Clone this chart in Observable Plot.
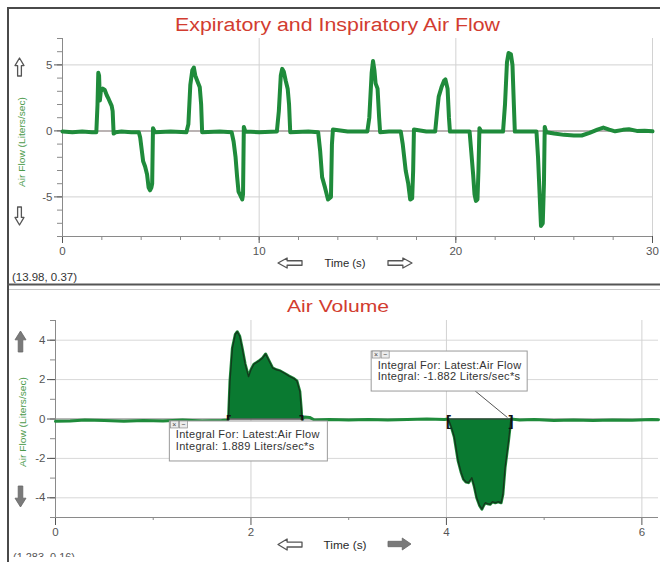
<!DOCTYPE html>
<html>
<head>
<meta charset="utf-8">
<script src="https://cdn.jsdelivr.net/npm/d3@7"></script>
<script src="https://cdn.jsdelivr.net/npm/@observablehq/plot@0.6"></script>
<style>
  html, body { margin: 0; padding: 0; background: #fff; }
  #root { position: relative; width: 660px; height: 562px; overflow: hidden; background: #fff; font-family: "Liberation Sans", Arial, sans-serif; }
  #root > svg { position: absolute; left: 0; }
</style>
</head>
<body>
<div id="root"></div>
<script>
// ---------- text ----------
const topTitle = "Expiratory and Inspiratory Air Flow";
const bottomTitle = "Air Volume";
const yLabel = "Air Flow (Liters/sec)";
const xLabel = "Time (s)";
const topCursor = "(13.98, 0.37)";
const bottomCursor = "(1.283, 0.16)";
const integralFor = "Integral For: Latest:Air Flow";
const integralText = ["Integral: 1.889 Liters/sec*s", "Integral: -1.882 Liters/sec*s"];

// ---------- ticks ----------
const topTimeTicks = [0, 10, 20, 30];
const topTimeMinor = [0, 2, 4, 6, 8, 10, 12, 14, 16, 18, 20, 22, 24, 26, 28, 30];
const topTimeGrid = [10, 20, 30];
const topFlowTicks = [-5, 0, 5];
const topFlowMinor = [-8, -7, -6, -5, -4, -3, -2, -1, 0, 1, 2, 3, 4, 5, 6, 7];
const topFlowGrid = [-5, 5];

const volTimeTicks = [0, 2, 4, 6];
const volTimeMinor = [1, 3, 5];
const volTimeGrid = [2, 4, 6];
const volFlowTicks = [-4, -2, 0, 2, 4];
const volFlowMinor = [-5, -4, -3, -2, -1, 0, 1, 2, 3, 4, 5];
const volFlowGrid = [-4, -2, 2, 4];

// ---------- top panel: air flow over 30 s ----------
const topTime = [
  0, 0.5, 1.0, 1.5, 1.72,
  1.78, 1.82, 1.86, 1.9, 1.95, 2.05, 2.15, 2.25, 2.35, 2.5, 2.55, 2.6, 2.7, 3.0, 3.5, 3.88,
  3.95, 4.1, 4.2, 4.3, 4.38, 4.45, 4.52, 4.56, 4.6, 4.7, 5.5, 6.3,
  6.4, 6.5, 6.6, 6.68, 6.75, 6.85, 6.98, 7.05, 7.1, 8.0, 8.6,
  8.7, 8.8, 8.88, 8.95, 9.05, 9.14, 9.18, 9.22, 9.3, 10.0, 10.9,
  11.0, 11.1, 11.17, 11.25, 11.35, 11.45, 11.52, 11.58, 12.5, 13.0,
  13.1, 13.2, 13.35, 13.5, 13.65, 13.7, 13.75, 14.5, 15.5,
  15.6, 15.72, 15.79, 15.86, 15.92, 16.02, 16.1, 16.15, 16.6, 17.2,
  17.3, 17.45, 17.58, 17.68, 17.78, 17.83, 17.87, 18.5, 18.95,
  19.05, 19.13, 19.27, 19.4, 19.47, 19.58, 19.65, 19.7, 20.3, 20.7,
  20.78, 20.88, 20.95, 21.02, 21.1, 21.15, 21.2, 21.3, 22.4,
  22.5, 22.6, 22.68, 22.8, 22.88, 22.95, 23.0, 23.5, 24.1,
  24.18, 24.26, 24.33, 24.42, 24.48, 24.52, 24.6, 25.0, 25.5, 26.0, 26.4, 26.8,
  27.2, 27.5, 27.8, 28.1, 28.5, 28.8, 29.2, 29.6, 30.0
];
const topFlow = [
  -0.05, -0.1, -0.05, -0.1, -0.1,
  2.0, 4.4, 4.2, 2.3, 3.0, 3.2, 3.1, 2.7, 2.4, 1.9, 1.5, -0.2, -0.1, -0.05, -0.1, -0.1,
  -0.5, -2.3, -2.7, -3.3, -4.3, -4.5, -4.3, -4.0, 0.2, -0.1, -0.05, -0.1,
  0.5, 3.5, 4.6, 4.8, 4.2, 3.8, 3.3, 2.0, -0.1, -0.05, -0.1,
  -0.8, -2.0, -3.5, -4.6, -4.9, -5.2, -4.8, 0.3, -0.05, -0.1, -0.05,
  1.5, 4.2, 4.7, 4.5, 3.8, 3.2, 2.0, -0.1, -0.05, -0.1,
  -1.5, -3.5, -4.3, -5.2, -5.0, -1.0, 0.1, -0.05, -0.05,
  1.0, 4.4, 5.3, 4.6, 3.6, 3.2, 1.0, -0.1, -0.05, -0.05,
  -1.0, -3.0, -4.0, -5.2, -5.1, -3.0, 0.1, -0.05, -0.05,
  1.5, 2.6, 3.3, 3.8, 3.9, 3.2, 1.0, -0.05, -0.05, -0.05,
  -1.5, -3.3, -4.8, -5.3, -5.2, -3.0, 0.2, -0.05, -0.05,
  2.0, 5.2, 5.9, 5.8, 5.0, 2.0, -0.05, -0.05, -0.05,
  -2.0, -4.8, -7.2, -7.0, -4.0, 0.3, -0.1, -0.2, -0.3, -0.35, -0.35, -0.15,
  0.1, 0.25, 0.1, -0.03, 0.08, 0.12, 0.0, 0.02, -0.03
];

// ---------- bottom panel: air flow 0–6.17 s with integrals ----------
const volTime = [
  0, 0.15, 0.3, 0.5, 0.7, 0.9, 1.1, 1.3, 1.5, 1.7, 1.76,
  1.77, 1.785, 1.81, 1.84, 1.86, 1.885, 1.91, 1.94, 1.975, 2.0, 2.03, 2.08, 2.12, 2.15,
  2.18, 2.22, 2.26, 2.3, 2.35, 2.39, 2.44, 2.47, 2.5, 2.515, 2.52,
  2.55, 2.6, 2.65, 2.8, 3.0, 3.2, 3.4, 3.6, 3.8, 3.98,
  4.02, 4.05, 4.08, 4.12, 4.15, 4.175, 4.2, 4.226, 4.26, 4.284, 4.31, 4.34, 4.363, 4.38,
  4.397, 4.42, 4.448, 4.47, 4.5, 4.53, 4.56, 4.578, 4.6, 4.635, 4.66,
  4.75, 4.9, 5.1, 5.3, 5.5, 5.7, 5.9, 6.1, 6.17
];
const volFlow = [
  -0.12, -0.1, -0.05, -0.08, -0.12, -0.08, -0.1, -0.05, -0.1, -0.08, -0.05,
  0.0, 1.9, 3.6, 4.3, 4.43, 4.2, 3.6, 2.8, 2.15, 2.5, 2.78, 2.94, 3.1, 3.3,
  3.0, 2.6, 2.5, 2.44, 2.3, 2.18, 2.05, 1.93, 1.4, 0.5, 0.0,
  0.1, 0.08, -0.05, -0.03, -0.05, -0.02, -0.05, -0.03, 0.0, -0.03,
  0.0, -0.4, -0.9, -2.13, -2.7, -3.06, -3.2, -3.23, -2.98, -3.4, -4.0, -4.4, -4.58, -4.4,
  -4.25, -4.3, -4.33, -4.2, -4.25, -4.2, -4.25, -3.82, -2.47, -1.12, 0.0,
  -0.05, -0.02, -0.08, -0.05, -0.08, -0.05, -0.06, -0.02, -0.04
];
const integralStart = [1.77, 4.02];
const integralEnd = [2.52, 4.66];
// where each integral note box sits (data units of the bottom panel)
const noteTime = [1.165, 3.23];
const noteFlow = [-0.1, 3.45];

// ---------- build ----------
const FONT = "'Liberation Sans', Arial, sans-serif";
const GREEN = "#1f8b3b";
const root = document.getElementById("root");

const topRows = topTime.map((t, i) => ({t, v: topFlow[i]}));
const volRows = volTime.map((t, i) => ({t, v: volFlow[i]}));
const fillRows = [];
integralStart.forEach((s, k) => {
  volRows.forEach(r => { if (r.t >= s - 1e-9 && r.t <= integralEnd[k] + 1e-9) fillRows.push({...r, k}); });
});
const brackets = integralStart.map(t => ({t, s: "["})).concat(integralEnd.map(t => ({t, s: "]"})));
const tf = d => String(d);
const none = () => "";

function yAxisMarks(minor, major) {
  return [
    Plot.axisY(minor, {tickSize: 5, tickFormat: none, label: null, stroke: "#8a8a8a", color: "#8a8a8a"}),
    Plot.axisY(major, {tickSize: 8, tickPadding: 2, tickFormat: tf, label: null, color: "#555", fontSize: 11.5})
  ];
}
function xAxisMarks(minor, minorSize, major, majorSize, pad) {
  return [
    Plot.axisX(minor, {tickSize: minorSize, tickFormat: none, label: null, color: "#8a8a8a"}),
    Plot.axisX(major, {tickSize: majorSize, tickPadding: pad, tickFormat: tf, label: null, color: "#555", fontSize: 11.5})
  ];
}

const topPlot = Plot.plot({
  width: 660, height: 285,
  marginLeft: 62, marginRight: 8, marginTop: 38, marginBottom: 49,
  style: {background: "none", fontFamily: FONT},
  x: {domain: [0, 30]},
  y: {domain: [-8, 7]},
  marks: [
    Plot.gridY(topFlowGrid, {stroke: "#d2d2d2", strokeOpacity: 1}),
    Plot.gridX(topTimeGrid, {stroke: "#d2d2d2", strokeOpacity: 1}),
    Plot.ruleY([0], {stroke: "#a39a9a", strokeWidth: 1.5}),
    ...yAxisMarks(topFlowMinor, topFlowTicks),
    ...xAxisMarks(topTimeMinor, 4, topTimeTicks, 7, 3),
    Plot.ruleX([0], {stroke: "#8a8a8a"}),
    Plot.ruleY([-8], {stroke: "#8a8a8a"}),
    Plot.line(topRows, {x: "t", y: "v", stroke: GREEN, strokeWidth: 4, strokeLinejoin: "round", strokeLinecap: "round"})
  ]
});
topPlot.style.top = "0px";
root.appendChild(topPlot);

const volPlot = Plot.plot({
  width: 660, height: 277,
  marginLeft: 55, marginRight: 2, marginTop: 35, marginBottom: 45,
  style: {background: "none", fontFamily: FONT},
  x: {domain: [0, 6.17]},
  y: {domain: [-5, 5]},
  marks: [
    Plot.gridY(volFlowGrid, {stroke: "#d8d8d8", strokeOpacity: 1}),
    Plot.gridX(volTimeGrid, {stroke: "#d2d2d2", strokeOpacity: 1}),
    Plot.ruleY([0], {stroke: "#a0a0a0", strokeWidth: 1.5}),
    ...yAxisMarks(volFlowMinor, volFlowTicks),
    ...xAxisMarks(volTimeMinor, 3, volTimeTicks, 8, 2),
    Plot.ruleX([0], {stroke: "#8a8a8a"}),
    Plot.ruleY([-5], {stroke: "#8a8a8a"}),
    Plot.line(volRows, {x: "t", y: "v", stroke: GREEN, strokeWidth: 3, strokeLinejoin: "round"}),
    Plot.areaY(fillRows, {x: "t", y1: 0, y2: "v", z: "k", fill: "#0a7a31", fillOpacity: 1}),
    Plot.line(fillRows, {x: "t", y: "v", z: "k", stroke: "#123a1c", strokeWidth: 1.4}),
    Plot.link(integralStart.map((s, k) => ({s, e: integralEnd[k]})), {x1: "s", x2: "e", y1: 0, y2: 0, stroke: "#3a3a3a", strokeWidth: 1.2}),
    Plot.text(brackets, {x: "t", y: 0, text: "s", fontSize: 15, fontWeight: "bold", fill: "#111", dy: 2})
  ]
});
volPlot.style.top = "285px";
root.appendChild(volPlot);

// ---------- overlay: frame, titles, labels, arrows, notes ----------
const ov = d3.create("svg").attr("width", 660).attr("height", 562)
  .style("top", "0px").style("pointer-events", "none").style("font-family", FONT);
ov.append("defs").append("clipPath").attr("id", "cut").append("rect").attr("x", 0).attr("y", 0).attr("width", 660).attr("height", 557);

// frame
ov.append("line").attr("x1", 8).attr("x2", 8).attr("y1", 7).attr("y2", 562).attr("stroke", "#4a4a4a").attr("stroke-width", 2);
ov.append("line").attr("x1", 7).attr("x2", 660).attr("y1", 8).attr("y2", 8).attr("stroke", "#4a4a4a").attr("stroke-width", 2);
ov.append("line").attr("x1", 7).attr("x2", 660).attr("y1", 284.5).attr("y2", 284.5).attr("stroke", "#555").attr("stroke-width", 2);
ov.append("line").attr("x1", 9).attr("x2", 660).attr("y1", 289.5).attr("y2", 289.5).attr("stroke", "#c8c8c8").attr("stroke-width", 1);

function txt(x, y, s, o = {}) {
  const t = ov.append("text").attr("x", x).attr("y", y).text(s)
    .attr("font-size", o.size || 11).attr("fill", o.fill || "#333")
    .attr("text-anchor", o.anchor || "start");
  if (o.len) t.attr("textLength", o.len).attr("lengthAdjust", "spacingAndGlyphs");
  if (o.weight) t.attr("font-weight", o.weight);
  if (o.ls) t.attr("letter-spacing", o.ls);
  if (o.rot) t.attr("transform", `rotate(-90 ${x} ${y})`);
  if (o.clip) t.attr("clip-path", "url(#cut)");
  return t;
}

// titles
txt(337.5, 30.5, topTitle, {size: 18, fill: "#d23c30", anchor: "middle", len: 325});
txt(338, 312, bottomTitle, {size: 17, fill: "#d23c30", anchor: "middle", len: 102});

// y labels
txt(25, 142, yLabel, {size: 9.5, fill: "#4b9a4b", anchor: "middle", len: 90, rot: true});
txt(26, 422, yLabel, {size: 9.5, fill: "#4b9a4b", anchor: "middle", len: 90, rot: true});

// x labels
txt(345, 267, xLabel, {size: 11, fill: "#2a2a2a", anchor: "middle", len: 41});
txt(345, 549, xLabel, {size: 11, fill: "#2a2a2a", anchor: "middle", len: 43});

// cursor readouts
txt(12, 281, topCursor, {size: 10, fill: "#333", len: 65});
txt(13, 561, bottomCursor, {size: 10, fill: "#555", len: 62, clip: true});

// arrows
function arrow(dir, x0, y0, w, h, filled) {
  let p;
  if (dir === "up" || dir === "down") {
    const hh = h * 0.42, sw = w * 0.42, cx = x0 + w / 2;
    p = dir === "up"
      ? [[cx, y0], [x0 + w, y0 + hh], [cx + sw / 2, y0 + hh], [cx + sw / 2, y0 + h], [cx - sw / 2, y0 + h], [cx - sw / 2, y0 + hh], [x0, y0 + hh]]
      : [[cx, y0 + h], [x0 + w, y0 + h - hh], [cx + sw / 2, y0 + h - hh], [cx + sw / 2, y0], [cx - sw / 2, y0], [cx - sw / 2, y0 + h - hh], [x0, y0 + h - hh]];
  } else {
    const hw = w * 0.38, sh = h * 0.45, cy = y0 + h / 2;
    p = dir === "left"
      ? [[x0, cy], [x0 + hw, y0], [x0 + hw, cy - sh / 2], [x0 + w, cy - sh / 2], [x0 + w, cy + sh / 2], [x0 + hw, cy + sh / 2], [x0 + hw, y0 + h]]
      : [[x0 + w, cy], [x0 + w - hw, y0], [x0 + w - hw, cy - sh / 2], [x0, cy - sh / 2], [x0, cy + sh / 2], [x0 + w - hw, cy + sh / 2], [x0 + w - hw, y0 + h]];
  }
  ov.append("path").attr("d", "M" + p.map(q => q.join(",")).join("L") + "Z")
    .attr("fill", filled ? "#7a7a7a" : "#fff")
    .attr("stroke", filled ? "#666" : "#555").attr("stroke-width", filled ? 0.8 : 1.3)
    .attr("stroke-linejoin", "round");
}
arrow("up", 15, 58, 9, 18, false);
arrow("down", 15, 207, 9, 18, false);
arrow("left", 278, 258, 24, 10, false);
arrow("right", 388, 258, 24, 10, false);
arrow("up", 15, 331, 11, 21, true);
arrow("down", 15, 486, 11, 21, true);
arrow("left", 278, 539, 24, 11, false);
arrow("right", 388, 538, 23, 12, true);

// integral notes
const xs = volPlot.scale("x"), ys = volPlot.scale("y");
const boxW = [158, 156], boxH = 40;
noteTime.forEach((t, k) => {
  const left = xs.apply(t), top = ys.apply(noteFlow[k]) + 285;
  if (k === 1) {
    ov.append("line").attr("x1", left + 104).attr("y1", top + boxH)
      .attr("x2", xs.apply(integralEnd[k]) - 3).attr("y2", ys.apply(0) + 285 - 1)
      .attr("stroke", "#555").attr("stroke-width", 1);
  }
  ov.append("rect").attr("x", left + 0.5).attr("y", top + 0.5).attr("width", boxW[k]).attr("height", boxH)
    .attr("fill", "#fff").attr("stroke", "#9a9a9a").attr("stroke-width", 1);
  [0, 1].forEach(j => {
    ov.append("rect").attr("x", left + 1.5 + j * 9).attr("y", top + 0.5).attr("width", 8).attr("height", 7)
      .attr("fill", "#ececec").attr("stroke", "#8a8a8a").attr("stroke-width", 0.7);
    txt(left + 5.5 + j * 9, top + 6.5, j === 0 ? "×" : "−", {size: 7, fill: "#444", anchor: "middle"});
  });
  txt(left + 7, top + 18, integralFor, {size: 11, fill: "#333", ls: 0.3});
  txt(left + 7, top + 29.5, integralText[k], {size: 11, fill: "#333", ls: 0.3});
});

root.appendChild(ov.node());
</script>
</body>
</html>
